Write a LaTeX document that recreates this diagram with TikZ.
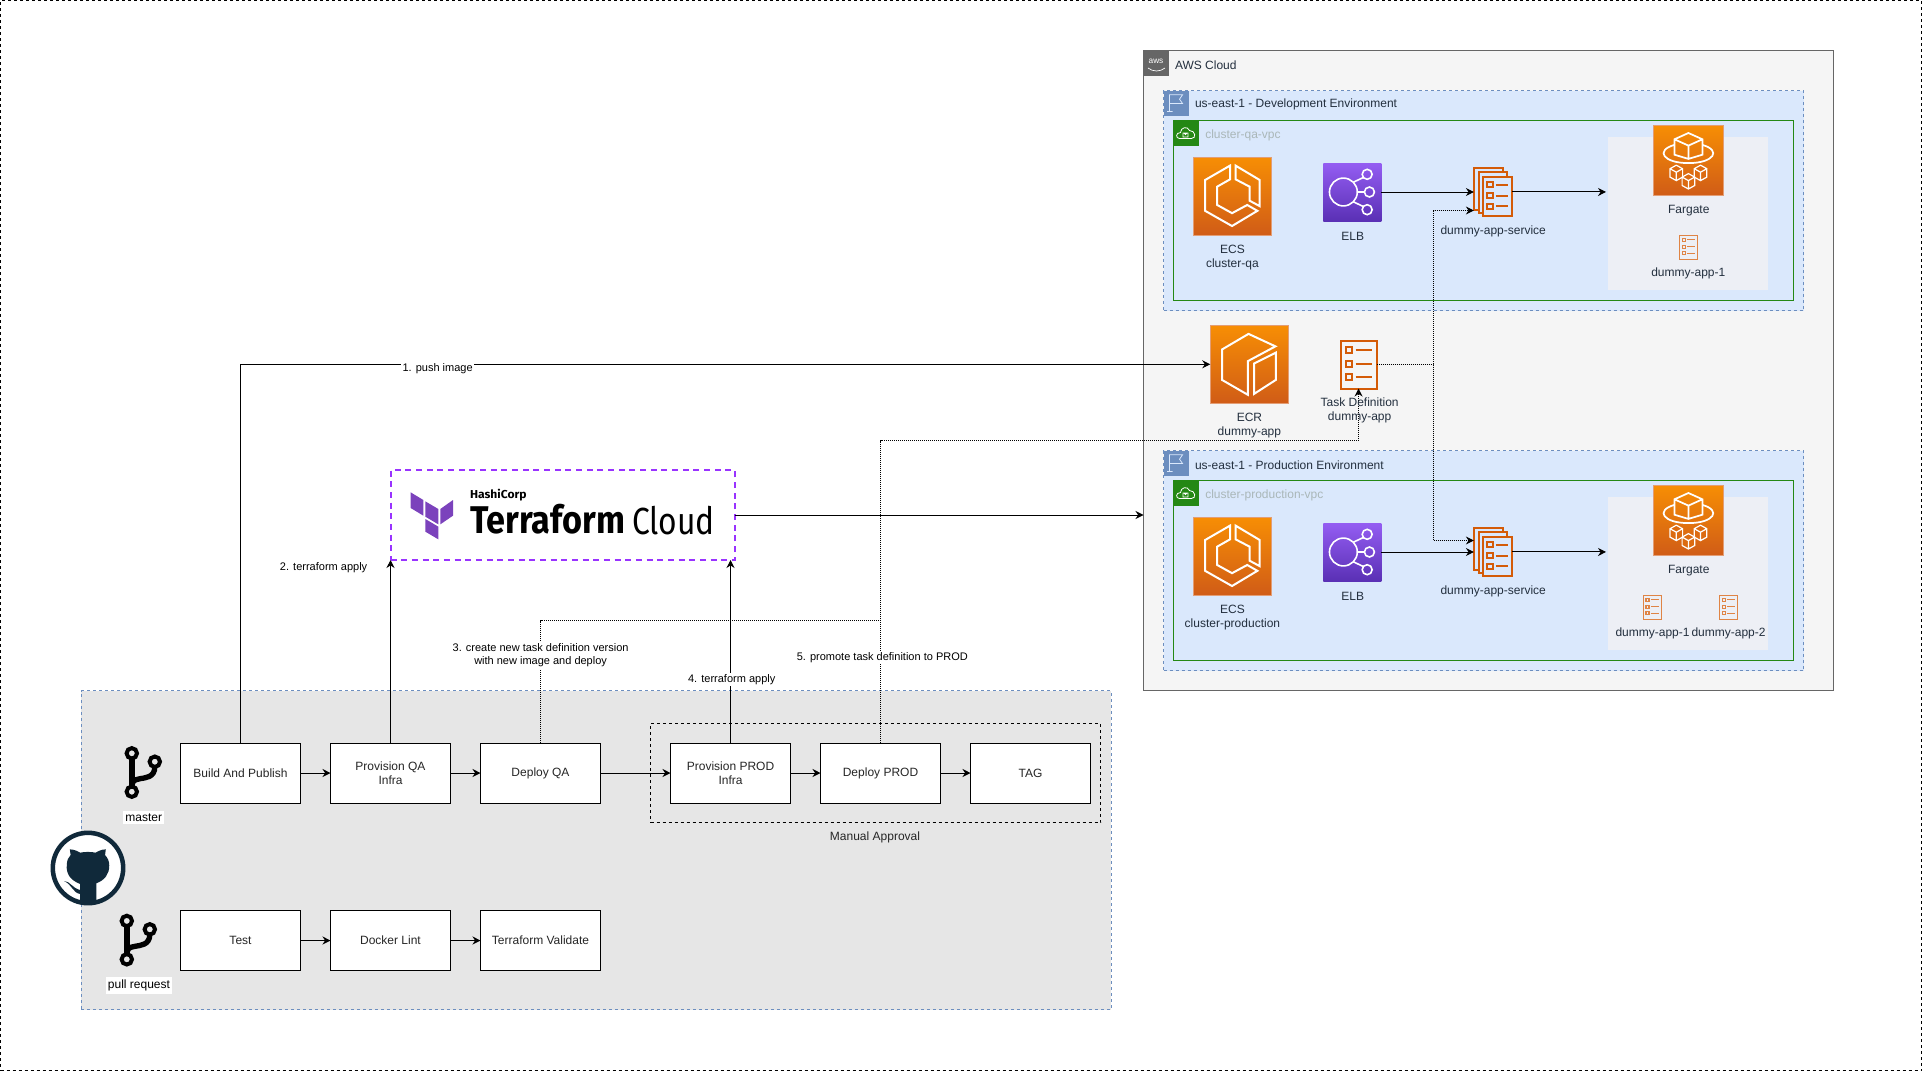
\documentclass[tikz,border=0pt]{standalone}
\usepackage{fontspec}
\usepackage{graphicx}
\setmainfont{Liberation Sans}
\newfontfamily\tffont{Fira Sans}
\usetikzlibrary{arrows.meta,calc}
\definecolor{awsgray}{HTML}{666666}
\definecolor{awstext}{HTML}{232F3E}
\definecolor{regionfill}{HTML}{DAE8FC}
\definecolor{regionline}{HTML}{6C8EBF}
\definecolor{vpcgreen}{HTML}{248814}
\definecolor{vpctext}{HTML}{AAB7B8}
\definecolor{panelgray}{HTML}{E6E6E6}
\definecolor{groupfill}{HTML}{EDEFF5}
\definecolor{taskorange}{HTML}{D45B07}
\definecolor{ghnavy}{HTML}{10293A}
\definecolor{tfpurple}{HTML}{7B42BC}
\definecolor{tfdash}{HTML}{9933FF}
\definecolor{purelb}{HTML}{945DF2}
\definecolor{darkelb}{HTML}{5A30B5}
\definecolor{orangetop}{HTML}{F78E04}
\definecolor{orangebot}{HTML}{D05C17}
\tikzset{
  every node/.style={outer sep=0pt},
  lab/.style={font=\fontsize{9}{10.5}\selectfont,align=center,inner sep=0pt,text=awstext,yshift=-1.1pt},
  blab/.style={font=\fontsize{9}{10.5}\selectfont,align=center,inner sep=0pt,text=black!85,yshift=-1.1pt},
  elab/.style={font=\fontsize{8.25}{10}\selectfont,align=center,inner sep=1pt,fill=white,text=black,yshift=-1.1pt},
  wlab/.style={font=\fontsize{9}{10.5}\selectfont,align=center,inner xsep=1.5pt,inner ysep=2pt,fill=white,text=black,yshift=-1.1pt},
  procbox/.style={draw=black,fill=white,line width=.75pt,minimum width=90pt,minimum height=45pt,inner sep=0pt,align=center,font=\fontsize{9}{10.5}\selectfont,text=black!85},
  region/.style={draw=regionline,fill=regionfill,line width=.75pt,dash pattern=on 2.25pt off 2.25pt,anchor=north west,inner sep=0pt,minimum width=480pt,minimum height=165pt},
  vpc/.style={draw=vpcgreen,fill=regionfill,line width=.75pt,anchor=north west,inner sep=0pt,minimum width=465pt,minimum height=135pt},
  fgroup/.style={fill=groupfill,anchor=north west,inner sep=0pt,minimum width=120pt,minimum height=115pt},
  orangeicon/.style={top color=orangetop,bottom color=orangebot,inner sep=0pt,anchor=north west,draw=orangebot!60!white,line width=.4pt},
  ecsicon/.style={orangeicon,minimum width=58.5pt,minimum height=58.5pt},
  fargicon/.style={orangeicon,minimum width=52.5pt,minimum height=52.5pt},
  elbicon/.style={top color=purelb,bottom color=darkelb,inner sep=0pt,anchor=north west,minimum width=43.5pt,minimum height=43.5pt},
  taskbig/.style={inner sep=0pt,anchor=north west,minimum width=27pt,minimum height=36pt},
  tasksmall/.style={inner sep=0pt,anchor=north west,minimum width=13.5pt,minimum height=17.6pt},
  svcicon/.style={inner sep=0pt,anchor=north west,minimum width=28.5pt,minimum height=35.5pt},
  art/.style={draw=white,line width=1.5pt,line join=miter},
  arr/.style={-{Stealth[length=6pt,width=6pt]},line width=.75pt,black},
  dotarr/.style={arr,dash pattern=on .75pt off .75pt},
  smalltab/.style={inner sep=0pt,anchor=north west,minimum width=18.75pt,minimum height=19pt},
}
\newcommand{\ecsart}[1]{\begin{scope}[shift={(#1.north west)},x=.585pt,y=-.585pt]
  \draw[art] (47,11)--(15,29.5)--(15,69)--(49.5,88.5)--(82,69)--(69,61.5)--(49.5,72)--(30.5,61.5)--(30.5,38)--(47,28.6)--cycle;
  \draw[art] (54,11)--(85,29.5)--(85,63)--(72,56)--(72,38)--(54,28.6)--cycle;
\end{scope}}
\newcommand{\ecrart}[1]{\begin{scope}[shift={(#1.north west)},x=.585pt,y=-.585pt]
  \draw[art] (49,11)--(15,31)--(15,70)--(48,89)--(48,46)--(83.5,27)--cycle;
  \draw[art] (84,35)--(84,70)--(56,88)--(56,49)--cycle;
\end{scope}}
\newcommand{\elbart}[1]{\begin{scope}[shift={(#1.north west)},x=.435pt,y=-.435pt]
  \draw[art,line width=1.2pt] (34.6,50) circle[radius=24];
  \draw[art,line width=1.2pt] (75.6,19.5) circle[radius=8.6] (79.5,50) circle[radius=8.6] (75.6,80.5) circle[radius=8.6];
  \draw[art,line width=1.2pt] (52,33)--(69,25) (58.6,50)--(71,50) (52,67)--(69,75);
\end{scope}}
\newcommand{\smallcube}[2]{\filldraw[art,line width=.9pt,fill=orangebot!70!orangetop] (#1,#2-11)--(#1-9,#2-6)--(#1-9,#2+6)--(#1,#2+11)--(#1+9,#2+6)--(#1+9,#2-6)--cycle (#1-9,#2-6)--(#1,#2-1)--(#1+9,#2-6) (#1,#2-1)--(#1,#2+11);}
\newcommand{\fargateart}[1]{\begin{scope}[shift={(#1.north west)},x=.525pt,y=-.525pt]
  \draw[art,line width=1.3pt] (30,28) .. controls (2,36) and (14,54) .. (50,54) .. controls (86,54) and (98,36) .. (70,28);
  \draw[art,line width=1.3pt] (50,11)--(30,20)--(30,42)--(50,48)--(70,42)--(70,20)--cycle (30,20)--(50,29)--(70,20) (50,29)--(50,48);
  \smallcube{32.7}{68}\smallcube{67.3}{68}\smallcube{50}{80}
\end{scope}}
\newcommand{\taskart}[4]{\begin{scope}[shift={(#1.north west)},x=#3*.75pt,y=-#3*.75pt,line width=#4]
  \draw[#2] (0,0) rectangle (36,48);
  \draw[#2] (5,6) rectangle (11,12) (5,20) rectangle (11,26) (5,33) rectangle (11,39);
  \draw[#2] (15,9)--(31,9) (15,23)--(31,23) (15,36)--(31,36);
\end{scope}}
\newcommand{\svcart}[1]{\begin{scope}[shift={(#1.north west)},x=.75pt,y=-.75pt,line width=1.5pt]
  \filldraw[taskorange,fill=regionfill] (0,0) rectangle (29,42);
  \filldraw[taskorange,fill=regionfill] (4.6,4) rectangle (33,44.5);
  \filldraw[taskorange,fill=regionfill] (9,8.7) rectangle (38,47.4);
  \draw[taskorange] (12.9,13.6) rectangle (18.8,19) (12.9,24.6) rectangle (18.8,30) (12.9,35.3) rectangle (18.8,40.6);
  \draw[taskorange] (22,16.4)--(34,16.4) (22,27.4)--(34,27.4) (22,38)--(34,38);
\end{scope}}
\newcommand{\flagart}[1]{\begin{scope}[shift={(#1.north west)},x=.75pt,y=-.75pt]
  \draw[regionfill,line width=.6pt] (6,21)--(6,4.3)--(19,4.3)--(16,8.7)--(19,13)--(6,13) (3.5,21)--(9,21);
\end{scope}}
\newcommand{\vpcart}[1]{\begin{scope}[shift={(#1.north west)},x=.75pt,y=-.75pt]
  \draw[white,line width=.6pt] (6,18) .. controls (2,18) and (2,12) .. (7,12) .. controls (7,7) and (14,5) .. (16,10) .. controls (22,10) and (23,18) .. (18,18) -- cycle;
  \draw[white,line width=.6pt] (9.5,12.5) rectangle (14.5,16.5) (10.5,12.5) arc[start angle=180,end angle=0,radius=1.5];
\end{scope}}
\newcommand{\branchart}[1]{\begin{scope}[shift={(#1.north west)},x=.75pt,y=-.75pt]
  \draw[black,line width=4.4pt] (6.8,10)--(6.8,40);
  \draw[black,line width=4pt] (29.8,20) .. controls (29.8,31) and (20,31) .. (15,32) .. controls (9,33) and (6.8,35) .. (6.8,38);
  \draw[black,line width=3pt,fill=panelgray] (6.8,6.6) circle[radius=5.2] (6.8,45) circle[radius=5.2] (29.8,15) circle[radius=5.2];
\end{scope}}
\begin{document}
\begin{tikzpicture}[x=.75pt,y=-.75pt,line width=.75pt]
\useasboundingbox (0,0) rectangle (1922,1071);
\fill[white] (0,0) rectangle (1922,1071);
\node[draw=black,line width=.75pt,dash pattern=on 2.25pt off 2.25pt,anchor=north west,inner sep=0pt,minimum width=1440.8pt,minimum height=802.5pt] (frame) at (.5,.5) {};

% CI panel
\node[draw=regionline,fill=panelgray,line width=.6pt,dash pattern=on 2.25pt off 2.25pt,anchor=north west,inner sep=0pt,minimum width=772.5pt,minimum height=239.2pt] (panel) at (81,690.7) {};
\node[draw=black,line width=.75pt,dash pattern=on 2.25pt off 2.25pt,anchor=north west,inner sep=0pt,minimum width=337.8pt,minimum height=74pt] (manual) at (650.5,723.5) {};
\node[blab] (manuallab) at (875,835.7) {Manual Approval};

% AWS
\node[draw=awsgray,fill=black!4,line width=.75pt,anchor=north west,inner sep=0pt,minimum width=517.5pt,minimum height=480pt] (aws) at (1143.5,50.5) {};
\node[fill=awsgray,anchor=north west,inner sep=0pt,minimum width=19pt,minimum height=19pt] (awsicon) at (1143.5,50.5) {};
\node[font=\fontsize{6.2}{7}\selectfont,text=white,inner sep=0pt] (awslogo) at (1156,61) {aws};
\draw[white,line width=.5pt] (1148,68) .. controls (1153,72) and (1160,72) .. (1165,68);
\node[lab,anchor=west] (awslab) at (1175,63.3) {AWS Cloud};

% Dev region
\node[region] (dev) at (1163.5,90.5) {};
\node[fill=regionline,smalltab] (devflag) at (1163.5,90.5) {};
\flagart{devflag}
\node[lab,anchor=west] (devlab) at (1195,103.3) {us-east-1 - Development Environment};
\node[vpc] (devvpc) at (1173.5,120.5) {};
\node[fill=vpcgreen,smalltab] (devvpcicon) at (1173.5,120.5) {};
\vpcart{devvpcicon}
\node[lab,anchor=west,text=vpctext] (devvpclab) at (1205.3,134) {cluster-qa-vpc};
\node[ecsicon] (ecsdev) at (1193.4,157) {};
\ecsart{ecsdev}
\node[lab] (ecsdevlab) at (1232.4,255.7) {ECS\\cluster-qa};
\node[elbicon] (elbdev) at (1323.3,163) {};
\elbart{elbdev}
\node[lab] (elbdevlab) at (1352.7,234.7) {ELB};
\node[svcicon] (svcdev) at (1473.9,168.3) {};
\svcart{svcdev}
\node[lab] (svcdevlab) at (1493.2,230) {dummy-app-service};
\node[fgroup] (fgdev) at (1608,137) {};
\node[fargicon] (fargdev) at (1653.4,125.3) {};
\fargateart{fargdev}
\node[lab] (fargdevlab) at (1688.8,209) {Fargate};
\node[tasksmall] (task1dev) at (1679.6,235.3) {};
\taskart{task1dev}{taskorange!75!white}{.5}{.9pt}
\node[lab] (task1devlab) at (1688.3,272) {dummy-app-1};

% Prod region
\node[region] (prod) at (1163.5,450.5) {};
\node[fill=regionline,smalltab] (prodflag) at (1163.5,450.5) {};
\flagart{prodflag}
\node[lab,anchor=west] (prodlab) at (1195,463.3) {us-east-1 - Production Environment};
\node[vpc] (prodvpc) at (1173.5,480.5) {};
\node[fill=vpcgreen,smalltab] (prodvpcicon) at (1173.5,480.5) {};
\vpcart{prodvpcicon}
\node[lab,anchor=west,text=vpctext] (prodvpclab) at (1205.3,494) {cluster-production-vpc};
\node[ecsicon] (ecsprod) at (1193.4,517) {};
\ecsart{ecsprod}
\node[lab] (ecsprodlab) at (1232.4,615.7) {ECS\\cluster-production};
\node[elbicon] (elbprod) at (1323.3,523) {};
\elbart{elbprod}
\node[lab] (elbprodlab) at (1352.7,594.7) {ELB};
\node[svcicon] (svcprod) at (1473.9,528.3) {};
\svcart{svcprod}
\node[lab] (svcprodlab) at (1493.2,590) {dummy-app-service};
\node[fgroup] (fgprod) at (1608,497) {};
\node[fargicon] (fargprod) at (1653.4,485.3) {};
\fargateart{fargprod}
\node[lab] (fargprodlab) at (1688.8,569) {Fargate};
\node[tasksmall] (task1prod) at (1643.4,595.3) {};
\taskart{task1prod}{taskorange!75!white}{.5}{.9pt}
\node[tasksmall] (task2prod) at (1719.6,595.3) {};
\taskart{task2prod}{taskorange!75!white}{.5}{.9pt}
\node[lab] (task1prodlab) at (1652.5,632) {dummy-app-1};
\node[lab] (task2prodlab) at (1728.5,632) {dummy-app-2};

% ECR + task definition
\node[ecsicon] (ecr) at (1210.3,325.3) {};
\ecrart{ecr}
\node[lab] (ecrlab) at (1249.4,423.7) {ECR\\dummy-app};
\node[taskbig] (taskdef) at (1340.5,340.5) {};
\taskart{taskdef}{taskorange}{1}{1.5pt}

% Terraform
\node[draw=tfdash,line width=1.5pt,dash pattern=on 4.5pt off 3.5pt,anchor=north west,inner sep=0pt,minimum width=258pt,minimum height=67.5pt] (tfc) at (390.5,470) {};
\begin{scope}[shift={(380,460)},x=.25pt,y=-.25pt]
  \fill[tfpurple] (92,97)--(130,120)--(130,167)--(92,144)--cycle;
  \fill[tfpurple] (136,124)--(175,147)--(175,193)--(136,170)--cycle;
  \fill[tfpurple] (181,147)--(219,120)--(219,167)--(181,193)--cycle;
  \fill[tfpurple] (136,177)--(175,200)--(175,238)--(136,215)--cycle;
\end{scope}
\node[anchor=south west,inner sep=0pt] (tfname) at (470,534.5) {\resizebox{116.25pt}{22pt}{\tffont\bfseries Terraform}};
\node[anchor=south west,inner sep=0pt] (tfcloud) at (632,534.5) {\resizebox{62pt}{21.25pt}{\tffont Cloud}};
\node[anchor=base west,inner sep=0pt] (tfhashi) at (470,498.7) {\resizebox{42.5pt}{7pt}{\tffont\bfseries HashiCorp}};

% Pipeline boxes
\node[procbox] (build) at (240.5,773) {Build And Publish};
\node[procbox] (provqa) at (390.5,773) {Provision QA\\Infra};
\node[procbox] (deployqa) at (540.5,773) {Deploy QA};
\node[procbox] (provprod) at (730.5,773) {Provision PROD\\Infra};
\node[procbox] (deployprod) at (880.5,773) {Deploy PROD};
\node[procbox] (tag) at (1030.5,773) {TAG};
\node[procbox] (test) at (240.5,940.5) {Test};
\node[procbox] (lint) at (390.5,940.5) {Docker Lint};
\node[procbox] (validate) at (540.5,940.5) {Terraform Validate};

\draw[arr] (build)--(provqa);
\draw[arr] (provqa)--(deployqa);
\draw[arr] (deployqa)--(provprod);
\draw[arr] (provprod)--(deployprod);
\draw[arr] (deployprod)--(tag);
\draw[arr] (test)--(lint);
\draw[arr] (lint)--(validate);

% Connectors
\draw[arr] (build.north) |- (ecr.west);
\draw[arr] (provqa.north) -- (provqa.north |- tfc.south);
\draw[arr] (provprod.north) -- (provprod.north |- tfc.south);
\draw[arr] (tfc.east) -- (tfc.east -| aws.west);
\draw[arr] (elbdev.east) -- (elbdev.east -| svcdev.west);
\draw[arr] (elbprod.east) -- (elbprod.east -| svcprod.west);
\draw[arr,shorten >=1.5pt] (svcdev.east) -- (svcdev.east -| fgdev.west);
\draw[arr,shorten >=1.5pt] (svcprod.east) -- (svcprod.east -| fgprod.west);

% Dotted connectors
\coordinate (bus) at (1433.5,364.5);
\coordinate (devy) at (1433.5,210.5);
\coordinate (prody) at (1433.5,540.5);
\coordinate (qaup) at (540.5,620.5);
\coordinate (promo) at (880.5,620.5);
\coordinate (promotop) at (880.5,440.5);
\draw[dotarr] (taskdef.east) -- (bus) -- (devy) -- (devy -| svcdev.west);
\draw[dotarr] (bus) -- (prody) -- (prody -| svcprod.west);
\draw[dotarr] (deployqa.north) -- (qaup) -- (promo) -- (promotop) -| (taskdef.south);
\draw[dash pattern=on .75pt off .75pt] (deployprod.north) -- (promotop);

% Labels
\node[lab] (taskdeflab) at (1359.6,408.7) {Task Definition\\dummy-app};
\node[elab] (l1) at (437.6,367.5) {1. push image};
\node[elab] (l2) at (323.6,566.3) {2. terraform apply};
\node[elab] (l3) at (540.6,654) {3. create new task definition version\\with new image and deploy};
\node[elab] (l4) at (731.7,678.3) {4. terraform apply};
\node[elab] (l5) at (882.3,656) {5. promote task definition to PROD};

% Branches
\node[inner sep=0pt,anchor=north west,minimum width=28pt,minimum height=39pt] (master) at (125,746.7) {};
\branchart{master}
\node[wlab] (masterlab) at (143.7,816) {master};
\node[inner sep=0pt,anchor=north west,minimum width=28pt,minimum height=39pt] (pr) at (120,914.3) {};
\branchart{pr}
\node[wlab] (prlab) at (139,984) {pull request};

% GitHub
\node[circle,draw=ghnavy,fill=white,line width=3.4pt,minimum size=52.8pt,inner sep=0pt] (github) at (88,868) {};
\begin{scope}[shift={(40,720)},x=.287pt,y=-.25pt]
  \fill[ghnavy] (105,550)--(105,492) .. controls (78,480) and (68,460) .. (70,435) .. controls (70,420) and (75,412) .. (80,405) -- (78,388) .. controls (90,388) and (100,395) .. (105,398) .. controls (115,395) and (135,395) .. (145,398) .. controls (150,395) and (160,388) .. (172,388) -- (170,405) .. controls (178,415) and (181,425) .. (181,437) .. controls (181,462) and (170,480) .. (147,490) -- (147,550) -- cycle;
  \fill[ghnavy] (63,483) .. controls (78,483) and (85,505) .. (105,510) -- (105,522) .. controls (85,518) and (85,495) .. (63,483) -- cycle;
\end{scope}
\end{tikzpicture}
\end{document}
